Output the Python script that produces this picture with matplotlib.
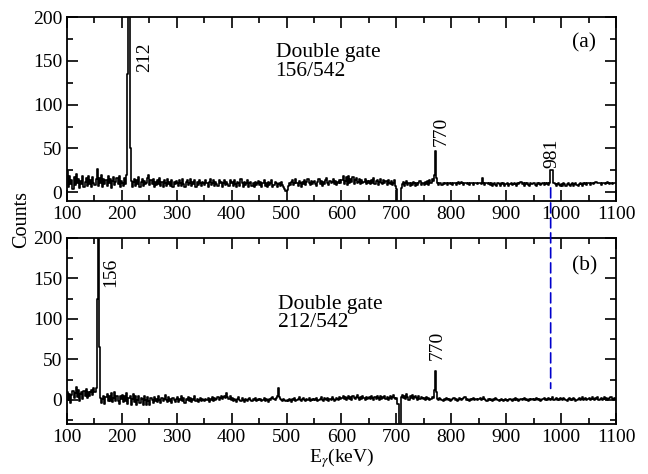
import numpy as np
import matplotlib
matplotlib.use('Agg')
import matplotlib.pyplot as plt
from matplotlib.patches import ConnectionPatch
from matplotlib.ticker import MultipleLocator

plt.rcParams['font.family'] = 'Liberation Serif'
plt.rcParams['mathtext.fontset'] = 'stix'

# bin edges: 2 keV bins from 100 to 1100 keV
e_lo, e_hi, bw = 100, 1100, 2

# (a) double gate 156/542, rows of 50 keV
counts_a = [
	24,6,18,9,14,4,17,8,21,10,15,5,13,9,18,6,12,16,7,19,9,14,6,17,10,
	8,15,27,7,16,10,20,6,15,9,14,7,18,10,15,5,13,17,8,12,16,9,18,6,13,
	10,7,16,9,20,135,300,50,13,6,12,15,7,14,9,17,6,12,15,7,13,9,11,16,20,
	8,14,9,15,6,12,8,14,9,16,7,12,6,14,10,7,15,9,12,7,14,6,12,9,13,
	10,7,14,11,7,15,9,6,12,14,8,10,15,7,12,9,14,6,12,8,14,10,7,12,10,
	8,14,10,6,12,15,8,10,14,7,12,9,7,14,10,12,6,10,14,8,12,9,7,14,10,
	12,7,14,9,6,12,10,7,15,10,6,12,8,10,14,6,10,12,7,10,6,12,8,10,13,
	8,12,6,10,14,7,11,6,12,8,10,14,6,8,12,10,6,9,11,7,12,8,6,4,2,
	3,7,11,8,12,14,8,10,15,11,7,13,10,6,12,9,14,8,12,15,10,8,13,9,12,
	13,9,7,12,15,9,13,7,12,9,14,16,11,8,13,10,12,15,9,13,8,12,10,14,11,
	14,18,9,13,17,8,18,10,15,12,17,9,14,16,10,12,15,9,14,10,12,15,9,13,11,
	13,9,14,10,16,9,13,14,8,12,15,11,9,14,10,13,8,14,11,9,13,8,11,14,7,
	4,-18,-20,-12,5,9,12,7,10,13,8,11,7,10,8,12,10,7,11,8,10,13,8,11,10,
	8,12,9,13,8,14,11,15,13,20,47,16,10,8,11,10,8,10,9,11,10,8,10,11,9,
	10,8,11,10,8,10,12,9,10,12,10,8,10,11,9,10,8,11,10,10,8,11,10,9,10,
	10,11,9,16,10,8,10,11,9,10,8,10,7,9,10,8,7,10,9,7,10,9,10,7,9,
	9,10,7,9,11,8,9,11,9,7,10,9,10,12,9,10,7,11,9,10,8,7,10,9,10,
	10,8,7,10,9,11,8,9,10,8,11,9,10,8,10,25,25,25,10,9,7,9,10,8,7,
	9,7,10,9,7,9,10,8,7,9,10,7,9,10,8,7,9,10,9,7,10,9,10,8,10,
	10,8,10,11,9,10,12,12,10,11,10,8,10,11,10,9,10,12,10,9,11,9,10,11,10,
]

# (b) double gate 212/542
counts_b = [
	10,0,7,-4,6,11,2,8,16,3,12,-1,7,10,1,11,4,13,2,9,4,10,12,6,14,
	9,14,125,300,65,2,-4,1,5,-5,3,7,-2,4,-1,8,-3,2,9,-2,5,-1,-5,4,1,
	6,-3,4,-1,8,-5,2,5,-6,1,7,-3,4,-7,0,5,-4,2,1,-6,4,0,-7,3,-2,
	-6,2,0,-4,3,-2,1,-3,5,0,-4,2,-2,1,6,0,-3,3,-1,1,-4,2,0,-3,1,
	3,-3,1,0,4,-2,2,-4,1,0,3,-2,2,-3,1,0,4,-2,1,-3,0,2,-2,1,0,
	-1,1,0,2,-3,1,0,3,-2,2,0,1,3,0,2,4,1,3,5,2,8,3,1,4,0,
	2,-2,1,0,-3,1,3,0,-2,2,0,-3,1,0,-1,1,2,0,-2,1,0,2,-1,0,1,
	0,1,-2,0,2,-1,1,0,-3,1,0,2,3,1,0,2,4,14,3,1,0,-1,1,0,-2,
	0,-2,1,0,-3,1,0,2,-1,0,1,3,0,-2,1,2,0,-1,1,0,2,-2,0,1,0,
	1,0,2,-1,0,1,3,0,-2,2,1,0,2,-1,1,0,3,1,-2,0,2,1,0,3,1,
	2,4,1,3,0,2,5,1,3,0,4,2,1,3,6,2,0,3,1,4,2,0,3,1,2,
	3,1,4,2,0,3,1,5,2,0,4,1,3,2,5,1,3,0,2,4,1,3,6,2,1,
	2,-5,-55,-50,3,6,2,5,1,7,3,0,4,2,6,1,3,5,2,0,4,1,3,2,1,
	2,0,3,1,2,0,1,3,2,12,35,10,1,0,2,1,0,-1,1,0,2,1,0,1,-1,
	0,1,2,0,1,-1,0,2,1,0,1,2,3,0,1,0,-1,1,0,1,2,0,1,0,1,
	1,2,0,1,3,1,0,-1,1,0,1,0,-1,1,0,2,1,0,-1,0,1,0,-1,0,1,
	0,-1,0,1,0,-1,1,0,2,0,1,-1,0,1,0,1,2,0,1,0,-1,1,0,1,0,
	1,0,2,1,0,1,-1,0,1,2,0,1,0,2,1,0,1,3,0,1,2,0,1,0,2,
	1,0,2,1,0,-1,1,2,0,1,0,2,1,-1,0,1,2,0,1,3,0,1,2,0,1,
	2,0,1,3,1,0,2,1,3,0,1,2,0,1,3,1,2,0,1,2,3,1,0,2,1,
]

edges = np.arange(e_lo, e_hi + bw, bw)

fig = plt.figure(figsize=(6.48, 4.74), dpi=100)
ax1 = fig.add_axes([0.1034, 0.5759, 0.8472, 0.3882])
ax2 = fig.add_axes([0.1034, 0.1055, 0.8472, 0.3924])

fs = 14     # tick labels, peak labels
fs_big = 15.5
for ax, c, ylo in ((ax1, counts_a, -10), (ax2, counts_b, -30)):
	y = np.append(c, c[-1])
	ax.step(edges, y, where='post', color='k', lw=1.2)
	ax.set_xlim(100, 1100)
	ax.set_ylim(ylo, 200)
	ax.xaxis.set_major_locator(MultipleLocator(100))
	ax.xaxis.set_minor_locator(MultipleLocator(50))
	ax.yaxis.set_major_locator(MultipleLocator(50))
	ax.yaxis.set_minor_locator(MultipleLocator(25))
	ax.tick_params(which='both', direction='in', top=True, right=True, labelsize=fs)
	ax.tick_params(which='major', length=8, width=1.2)
	ax.tick_params(which='minor', length=4.5, width=1.2)
	for s in ax.spines.values():
		s.set_linewidth(1.3)

# panel (a) labels
ax1.text(242, 154, '212', rotation=90, ha='center', va='center', fontsize=fs)
ax1.text(480, 170, 'Double gate\n156/542', ha='left', va='top', fontsize=fs_big, linespacing=0.95)
ax1.text(1042, 170, '(a)', ha='center', va='center', fontsize=fs_big)
ax1.text(782, 70, '770', rotation=90, ha='center', va='center', fontsize=fs)
ax1.text(983, 44, '981', rotation=90, ha='center', va='center', fontsize=fs)

# panel (b) labels
ax2.text(180, 157, '156', rotation=90, ha='center', va='center', fontsize=fs)
ax2.text(484, 130, 'Double gate\n212/542', ha='left', va='top', fontsize=fs_big, linespacing=0.95)
ax2.text(1042, 165, '(b)', ha='center', va='center', fontsize=fs_big)
ax2.text(774, 67, '770', rotation=90, ha='center', va='center', fontsize=fs)

ax2.set_xlabel(r'E$_\gamma$(keV)', fontsize=fs, labelpad=0)
fig.text(0.034, 0.536, 'Counts', rotation=90, ha='center', va='center', fontsize=fs+0.5)

# dashed marker at 981 keV across both panels
con = ConnectionPatch(xyA=(981, 5), coordsA=ax1.transData,
					  xyB=(981, 14), coordsB=ax2.transData,
					  color='#0000cc', lw=1.2, linestyle=(0, (6, 3)), zorder=5)
fig.add_artist(con)

fig.savefig('out.png', dpi=100)
